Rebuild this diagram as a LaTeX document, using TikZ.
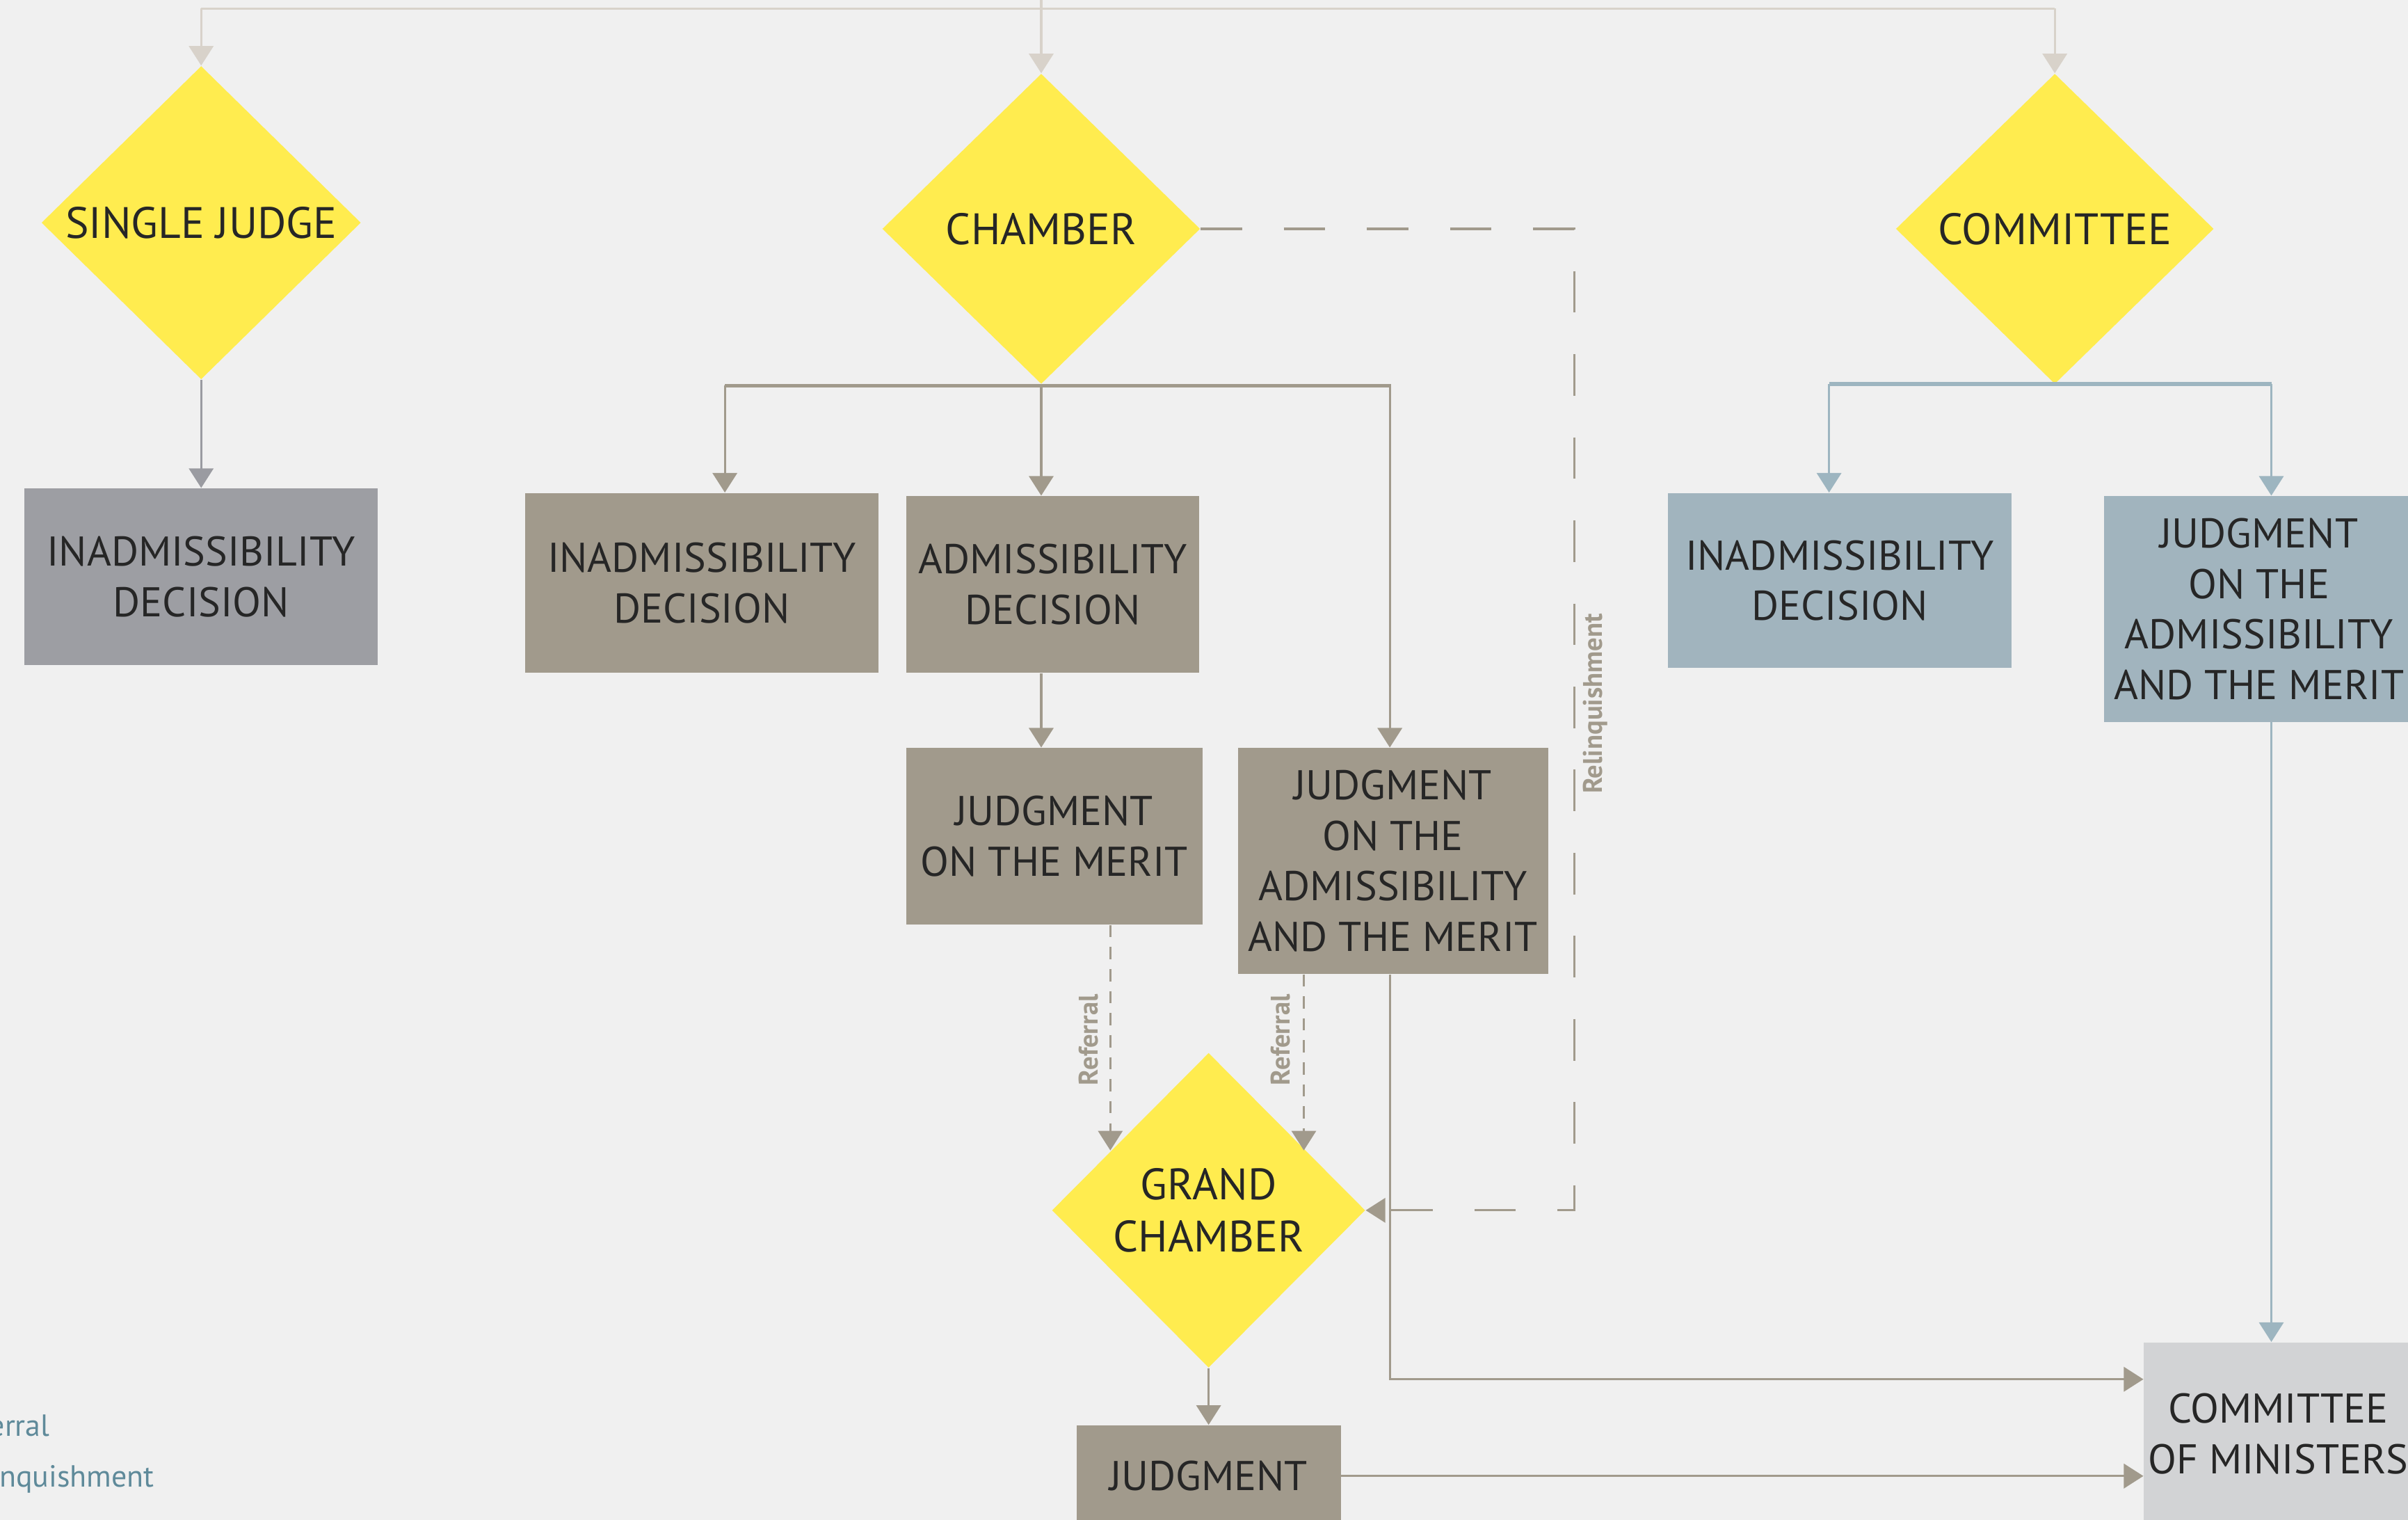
\documentclass[tikz,border=0pt]{standalone}
\usepackage{fontspec}
\setmainfont{PT Sans}
\usetikzlibrary{shapes.geometric, arrows.meta}

\definecolor{bgcol}{HTML}{F0F0F0}
\definecolor{yel}{HTML}{FFEC4F}
\definecolor{sjgrey}{HTML}{9D9EA3}
\definecolor{chtaupe}{HTML}{A19A8C}
\definecolor{coblue}{HTML}{A1B4BE}
\definecolor{cmgrey}{HTML}{D2D3D5}
\definecolor{toplinecol}{HTML}{D8D2CA}
\definecolor{sjlinecol}{HTML}{9A9BA1}
\definecolor{colinecol}{HTML}{9DB5C0}
\definecolor{legendcol}{HTML}{5F8A9A}
\definecolor{txtcol}{HTML}{262626}

% one pixel of the layout grid
\newcommand{\dpx}{0.02208cm}

\tikzset{
  court/.style={diamond, fill=yel, text=txtcol, align=center, inner sep=0pt,
    font=\fontsize{18}{21.5}\selectfont},
  decision/.style={rectangle, text=txtcol, align=center, inner sep=0pt,
    font=\fontsize{17}{20.7}\selectfont},
  flow/.style={line width=0.9pt, -{Triangle[width=10pt,length=8pt]}},
  fork/.style={line width=1.5pt},
  referral/.style={flow, line width=0.8pt, dash pattern=on 5pt off 4pt},
  relinq/.style={flow, dash pattern=on 17pt off 17pt},
  sidelabel/.style={rotate=90, text=chtaupe, font=\fontsize{11}{13}\selectfont\bfseries},
  legend/.style={text=legendcol, anchor=base east, font=\fontsize{12.5}{15}\selectfont},
}

\begin{document}
\begin{tikzpicture}[x=\dpx, y=-\dpx]
  \fill[bgcol] (0,0) rectangle (1568,989.6);
  \useasboundingbox (0,0) rectangle (1568,989.6);
  \clip (0,0) rectangle (1568,989.6);

  % Formations
  \node[court, minimum width=208*\dpx, minimum height=204*\dpx] (sj) at (131,145) {SINGLE JUDGE};
  \node[court, minimum width=207*\dpx, minimum height=202*\dpx] (ch) at (678,149) {CHAMBER};
  \node[court, minimum width=207*\dpx, minimum height=202*\dpx] (co) at (1338,149) {COMMITTEE};
  \node[court, minimum width=204*\dpx, minimum height=205*\dpx] (gc) at (787,788) {GRAND\\CHAMBER};

  % Decisions
  \node[decision, fill=sjgrey, minimum width=230*\dpx, minimum height=115*\dpx] (sjinad) at (131,375.5) {INADMISSIBILITY\\DECISION};
  \node[decision, fill=chtaupe, minimum width=230*\dpx, minimum height=117*\dpx] (chinad) at (457,379.5) {INADMISSIBILITY\\DECISION};
  \node[decision, fill=chtaupe, minimum width=191*\dpx, minimum height=115*\dpx] (chadm) at (685.5,380.5) {ADMISSIBILITY\\DECISION};
  \node[decision, fill=chtaupe, minimum width=193*\dpx, minimum height=115*\dpx] (chmerit) at (686.5,544.5) {JUDGMENT\\ON THE MERIT};
  \node[decision, fill=chtaupe, minimum width=202*\dpx, minimum height=147*\dpx] (chboth) at (907,560.5) {JUDGMENT\\ON THE\\ADMISSIBILITY\\AND THE MERIT};
  \node[decision, fill=chtaupe, minimum width=172*\dpx, minimum height=66*\dpx] (gcjudg) at (787,961) {JUDGMENT};
  \node[decision, fill=coblue, minimum width=224*\dpx, minimum height=114*\dpx] (coinad) at (1198,378) {INADMISSIBILITY\\DECISION};
  \node[decision, fill=coblue, minimum width=202*\dpx, minimum height=147*\dpx] (cojudg) at (1471,396.5) {JUDGMENT\\ON THE\\ADMISSIBILITY\\AND THE MERIT};
  \node[decision, fill=cmgrey, minimum width=175*\dpx, minimum height=119*\dpx] (cm) at (1483.5,933.5) {COMMITTEE\\OF MINISTERS};

  % Incoming applications
  \coordinate (topin) at (678,-5);
  \coordinate (topL) at (131,5.5);
  \coordinate (topR) at (1338,5.5);
  \draw[toplinecol, line width=0.9pt] (topL) -- (topR);
  \draw[flow, toplinecol] (topin) -- (ch.north);
  \draw[flow, toplinecol] (topL) -- (sj.north);
  \draw[flow, toplinecol] (topR) -- (co.north);

  % Single judge
  \draw[flow, sjlinecol] (sj.south) -- (sjinad.north);

  % Chamber
  \coordinate (chL) at (472,251);
  \coordinate (chM) at (678,251);
  \coordinate (chR) at (905,251);
  \draw[fork, chtaupe] (chL) -- ([xshift=1*\dpx]chR);
  \draw[flow, chtaupe] (chL) -- (chL |- chinad.north);
  \draw[flow, chtaupe] (chM) -- (chM |- chadm.north);
  \draw[flow, chtaupe] (chR) -- (chR |- chboth.north);
  \draw[flow, chtaupe] (chM |- chadm.south) -- (chM |- chmerit.north);

  % Referral to the Grand Chamber
  \coordinate (refa) at (723,749);
  \coordinate (refb) at (849,749);
  \draw[referral, chtaupe] (refa |- chmerit.south) -- (refa);
  \draw[referral, chtaupe] (refb |- chboth.south) -- (refb);
  \node[sidelabel] (refalab) at (709,677) {Referral};
  \node[sidelabel] (refblab) at (834,677) {Referral};

  % Relinquishment
  \coordinate (relc) at (1025,788);
  \draw[relinq, chtaupe] (ch.east) -| (relc) -- (gc.east);
  \node[sidelabel] (rellab) at (1039,458) {Relinquishment};

  % Grand Chamber and execution
  \draw[flow, chtaupe] (gc.south) -- (gcjudg.north);
  \draw[flow, chtaupe] (chR |- chboth.south) |- ([yshift=35.5*\dpx]cm.west);
  \draw[flow, chtaupe] (gcjudg.east) -- (gcjudg.east -| cm.west);

  % Committee
  \coordinate (coL) at (1191,250);
  \coordinate (coR) at (1479,250);
  \draw[fork, colinecol] (coL) -- (coR);
  \draw[flow, colinecol] (coL) -- (coL |- coinad.north);
  \draw[flow, colinecol] (coR) -- (coR |- cojudg.north);
  \draw[flow, colinecol] (coR |- cojudg.south) -- (coR |- cm.north);

  % Legend
  \node[legend] (legref) at (38,935) {Referral};
  \node[legend] (legrel) at (106,968) {Relinquishment};
\end{tikzpicture}
\end{document}
